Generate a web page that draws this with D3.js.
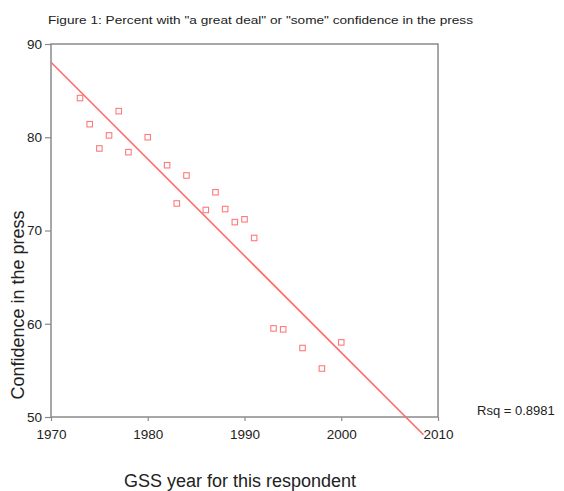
<!DOCTYPE html>
<html><head><meta charset="utf-8">
<script src="https://cdn.jsdelivr.net/npm/d3@7"></script>
<style>body{margin:0;background:#fff;} text{font-family:"Liberation Sans",Arial,sans-serif;fill:#222;}</style>
</head><body><svg id="c" width="564" height="491"></svg>
<script>
const years = [1973,1974,1975,1976,1977,1978,1980,1982,1983,1984,1986,1987,1988,1989,1990,1991,1993,1994,1996,1998,2000];
const confidence = [84.2,81.4,78.8,80.2,82.8,78.4,80.0,77.0,72.9,75.9,72.2,74.1,72.3,70.9,71.2,69.2,59.5,59.4,57.4,55.2,58.0];
const fitYears = [1970, 2008.5];
const fitValues = [88.04, 48.1];
const xTicks = [1970,1980,1990,2000,2010];
const yTicks = [50,60,70,80,90];
const title = 'Figure 1: Percent with "a great deal" or "some" confidence in the press';
const xTitle = "GSS year for this respondent";
const yTitle = "Confidence in the press";
const rsqLabel = "Rsq = 0.8981";

const svg = d3.select("#c");
const L=51,R=438,T=44,B=417;
const x = d3.scaleLinear().domain([1970,2010]).range([L,R]);
const y = d3.scaleLinear().domain([50,90]).range([B,T]);
const axisCol = "#8a8a8a";

svg.append("text").attr("x",48).attr("y",24).attr("font-size",11.2)
  .attr("textLength",425).attr("lengthAdjust","spacingAndGlyphs").text(title);

// frame
svg.append("rect").attr("x",L).attr("y",T).attr("width",R-L).attr("height",B-T)
  .attr("fill","none").attr("stroke",axisCol).attr("stroke-width",1.5);

const xa = svg.append("g").attr("transform",`translate(0,${B})`)
  .call(d3.axisBottom(x).tickValues(xTicks).tickFormat(d3.format("d")).tickSize(4).tickPadding(8));
const ya = svg.append("g").attr("transform",`translate(${L},0)`)
  .call(d3.axisLeft(y).tickValues(yTicks).tickSize(6).tickPadding(3));
[xa,ya].forEach(g=>{
  g.select(".domain").remove();
  g.selectAll("line").attr("stroke",axisCol).attr("stroke-width",1.2);
  g.selectAll("text").attr("font-size",13.5).attr("fill","#222").style("font-family","'Liberation Sans',Arial,sans-serif");
});

// fit line
svg.append("line").attr("x1",x(fitYears[0])).attr("y1",y(fitValues[0]))
  .attr("x2",x(fitYears[1])).attr("y2",y(fitValues[1]))
  .attr("stroke","#ff6a6a").attr("stroke-width",1.6);

// points
const s=5.5;
svg.append("g").selectAll("rect").data(years).join("rect")
  .attr("x",(d)=>x(d)-s/2).attr("y",(d,i)=>y(confidence[i])-s/2)
  .attr("width",s).attr("height",s).attr("fill","none")
  .attr("stroke","#ff7a7a").attr("stroke-width",1.1);

svg.append("text").attr("x",477).attr("y",415).attr("font-size",13).text(rsqLabel);
svg.append("text").attr("x",240).attr("y",487).attr("text-anchor","middle").attr("font-size",18).text(xTitle);
svg.append("text").attr("transform","translate(24,305) rotate(-90)").attr("text-anchor","middle").attr("font-size",18).text(yTitle);
</script></body></html>
